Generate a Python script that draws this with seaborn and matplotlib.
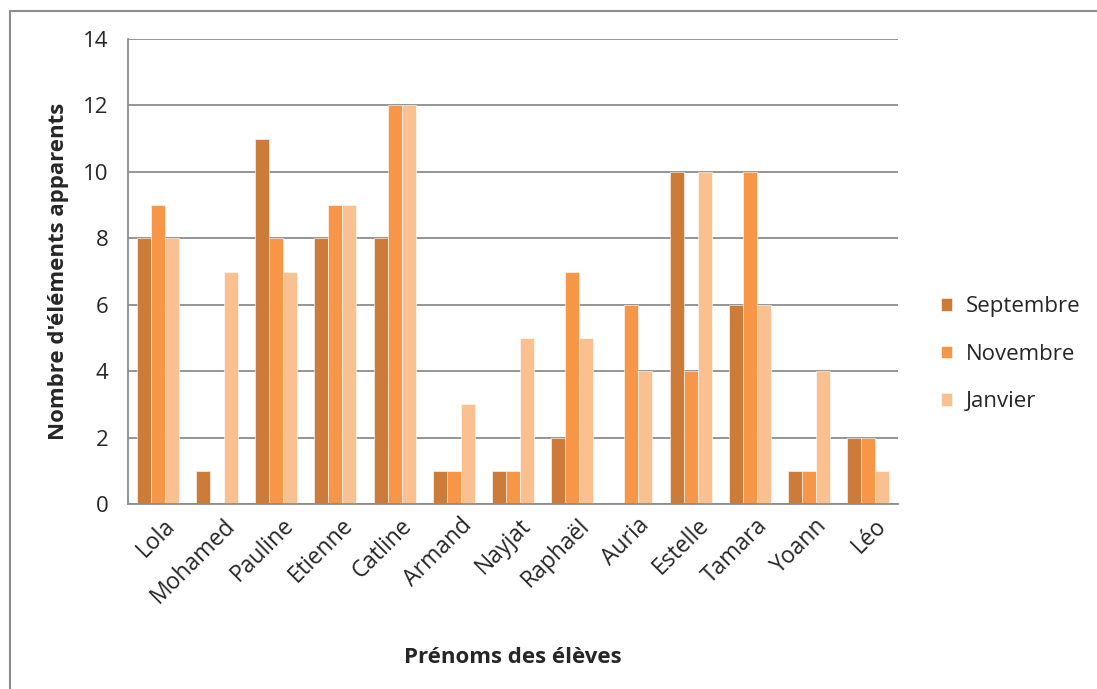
import matplotlib
matplotlib.use("Agg")
import matplotlib.pyplot as plt
import matplotlib.transforms as mtransforms
from matplotlib.lines import Line2D
import seaborn as sns
import pandas as pd
import numpy as np

eleves = ["Lola", "Mohamed", "Pauline", "Etienne", "Catline", "Armand", "Nayjat",
          "Raphaël", "Auria", "Estelle", "Tamara", "Yoann", "Léo"]
septembre = [8, 1, 11, 8, 8, 1, 1, 2, 0, 10, 6, 1, 2]
novembre = [9, 0, 8, 9, 12, 1, 1, 7, 6, 4, 10, 1, 2]
janvier = [8, 7, 7, 9, 12, 3, 5, 5, 4, 10, 6, 4, 1]
mois = ["Septembre", "Novembre", "Janvier"]
couleurs = ["#CD7B38", "#F79646", "#FAC090"]
y_ticks = [0, 2, 4, 6, 8, 10, 12, 14]

df = pd.DataFrame({
    "Élève": eleves * 3,
    "Mois": [mois[0]] * len(eleves) + [mois[1]] * len(eleves) + [mois[2]] * len(eleves),
    "Valeur": septembre + novembre + janvier,
})

sns.set_theme(style="white")
plt.rcParams['font.family'] = ['Open Sans', 'DejaVu Sans']

W, H = 1097, 689
fig = plt.figure(figsize=(W / 100, H / 100), dpi=100)
ax = fig.add_axes([128 / W, 1 - 504 / H, (898 - 128) / W, (504 - 39) / H])

sns.barplot(data=df, x="Élève", y="Valeur", hue="Mois", hue_order=mois,
            palette=couleurs, width=0.71, saturation=1, ax=ax, legend=True,
            edgecolor="white", linewidth=0.4)

ax.set_ylim(0, 14)
ax.set_xlim(-0.5, len(eleves) - 0.5)
ax.set_yticks(y_ticks)
ax.set_yticklabels([str(v) for v in y_ticks], fontsize=16)
ax.yaxis.grid(True, color="#8C8C8C", linewidth=1.3)
ax.set_axisbelow(True)

ax.set_xticks(range(len(eleves)))
ax.set_xticklabels(eleves, rotation=45, ha="right", rotation_mode="anchor", fontsize=16.5)
ax.tick_params(axis="x", which="major", length=0, pad=7)
ax.set_xticks(np.arange(-0.5, len(eleves), 1), minor=True)
ax.tick_params(axis="x", which="minor", length=6, color="#8C8C8C", width=1.2)
ax.tick_params(axis="y", length=6, color="#8C8C8C", width=1.2, pad=8)
offset = mtransforms.ScaledTranslation(6 / 100, 0, fig.dpi_scale_trans)
for lbl in ax.get_xticklabels():
    lbl.set_transform(lbl.get_transform() + offset)

for s in ["top", "right"]:
    ax.spines[s].set_visible(False)
for s in ["left", "bottom"]:
    ax.spines[s].set_color("#8C8C8C")
    ax.spines[s].set_linewidth(1.3)

ax.set_ylabel("Nombre d'éléments apparents", fontsize=16, fontweight="bold", labelpad=10)
ax.set_xlabel("Prénoms des élèves", fontsize=16, fontweight="bold", labelpad=28)

leg = ax.legend(loc="center left", bbox_to_anchor=(1.030, 0.322), frameon=False,
                fontsize=16, handlelength=0.5, handleheight=0.5, labelspacing=1.2,
                handletextpad=0.6)

fig.add_artist(Line2D([10 / W, 1.0], [1 - 11 / H, 1 - 11 / H], transform=fig.transFigure,
                      color="#8C8C8C", linewidth=1.5))
fig.add_artist(Line2D([10 / W, 10 / W], [0, 1 - 11 / H], transform=fig.transFigure,
                      color="#8C8C8C", linewidth=1.5))

fig.savefig("out.png", dpi=100)
